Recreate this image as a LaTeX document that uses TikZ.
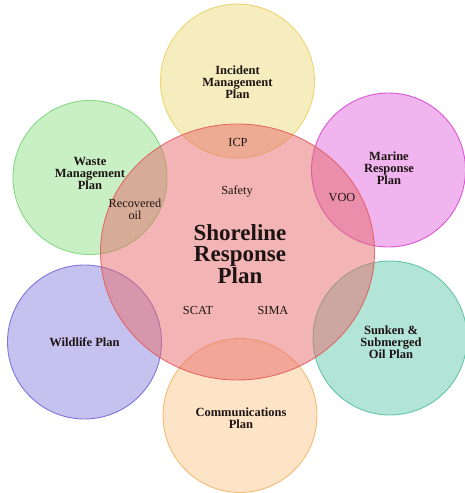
\documentclass[tikz,border=0pt]{standalone}
\usepackage{fontspec}
\setmainfont{Liberation Serif}
\usetikzlibrary{shapes.geometric}
\definecolor{redbase}{HTML}{E66A6A}
\definecolor{redline}{HTML}{E05A5A}
\definecolor{yelbase}{HTML}{EEDC7E}
\definecolor{yelline}{HTML}{E8D060}
\definecolor{magbase}{HTML}{E169DD}
\definecolor{magline}{HTML}{D640CE}
\definecolor{grnbase}{HTML}{91E189}
\definecolor{grnline}{HTML}{78D474}
\definecolor{purbase}{HTML}{8D85E1}
\definecolor{purline}{HTML}{6E62D4}
\definecolor{tealbase}{HTML}{65C9B1}
\definecolor{tealline}{HTML}{50BE9C}
\definecolor{orgbase}{HTML}{FBC98D}
\definecolor{orgline}{HTML}{F4B060}
\definecolor{txt}{HTML}{1E1414}
\begin{document}
\begin{tikzpicture}[x=1pt,y=-1pt,
  plan/.style={circle, line width=0.9pt, fill opacity=0.5, draw opacity=0.85,
    minimum size=154pt, inner sep=0pt},
  core/.style={ellipse, line width=0.9pt, fill opacity=0.5, draw opacity=0.85,
    minimum width=274pt, minimum height=256pt, inner sep=0pt},
  planlabel/.style={align=center, font=\bfseries\fontsize{12.5}{12}\selectfont, text=txt},
  link/.style={align=center, font=\fontsize{12.3}{12.5}\selectfont, text=txt},
  title/.style={align=center, font=\bfseries\fontsize{23}{21.5}\selectfont, text=txt}]
\useasboundingbox (0,0) rectangle (465,493);

% surrounding plans
\node[plan, fill=yelbase, draw=yelline] (incident) at (237.5,81) {};
\node[plan, fill=magbase, draw=magline] (marine) at (388.5,170) {};
\node[plan, fill=grnbase, draw=grnline] (waste) at (90,177.5) {};
\node[plan, fill=purbase, draw=purline] (wildlife) at (84.5,342) {};
\node[plan, fill=tealbase, draw=tealline] (sunken) at (390,338) {};
\node[plan, fill=orgbase, draw=orgline] (comms) at (240,415.5) {};

% shoreline response plan in the middle
\node[core, fill=redbase, draw=redline] (shore) at (237.5,252) {};

% plan names
\node[planlabel] (incidentname) at (237.5,82) {Incident\\Management\\Plan};
\node[planlabel] (marinename) at (389,168) {Marine\\Response\\Plan};
\node[planlabel] (wastename) at (90,173.5) {Waste\\Management\\Plan};
\node[planlabel] (wildlifename) at (84.5,342) {Wildlife Plan};
\node[planlabel] (sunkenname) at (391,342) {Sunken \&\\Submerged\\Oil Plan};
\node[planlabel] (commsname) at (241,418) {Communications\\Plan};
\node[title] (shorename) at (240,254) {Shoreline\\Response\\Plan};

% shared elements
\node[link] (icp) at (238,142) {ICP};
\node[link] (voo) at (342,198) {VOO};
\node[link] (oil) at (135,209.5) {Recovered\\oil};
\node[link] (safety) at (237,191) {Safety};
\node[link] (scat) at (198,310) {SCAT};
\node[link] (sima) at (273,310) {SIMA};
\end{tikzpicture}
\end{document}
